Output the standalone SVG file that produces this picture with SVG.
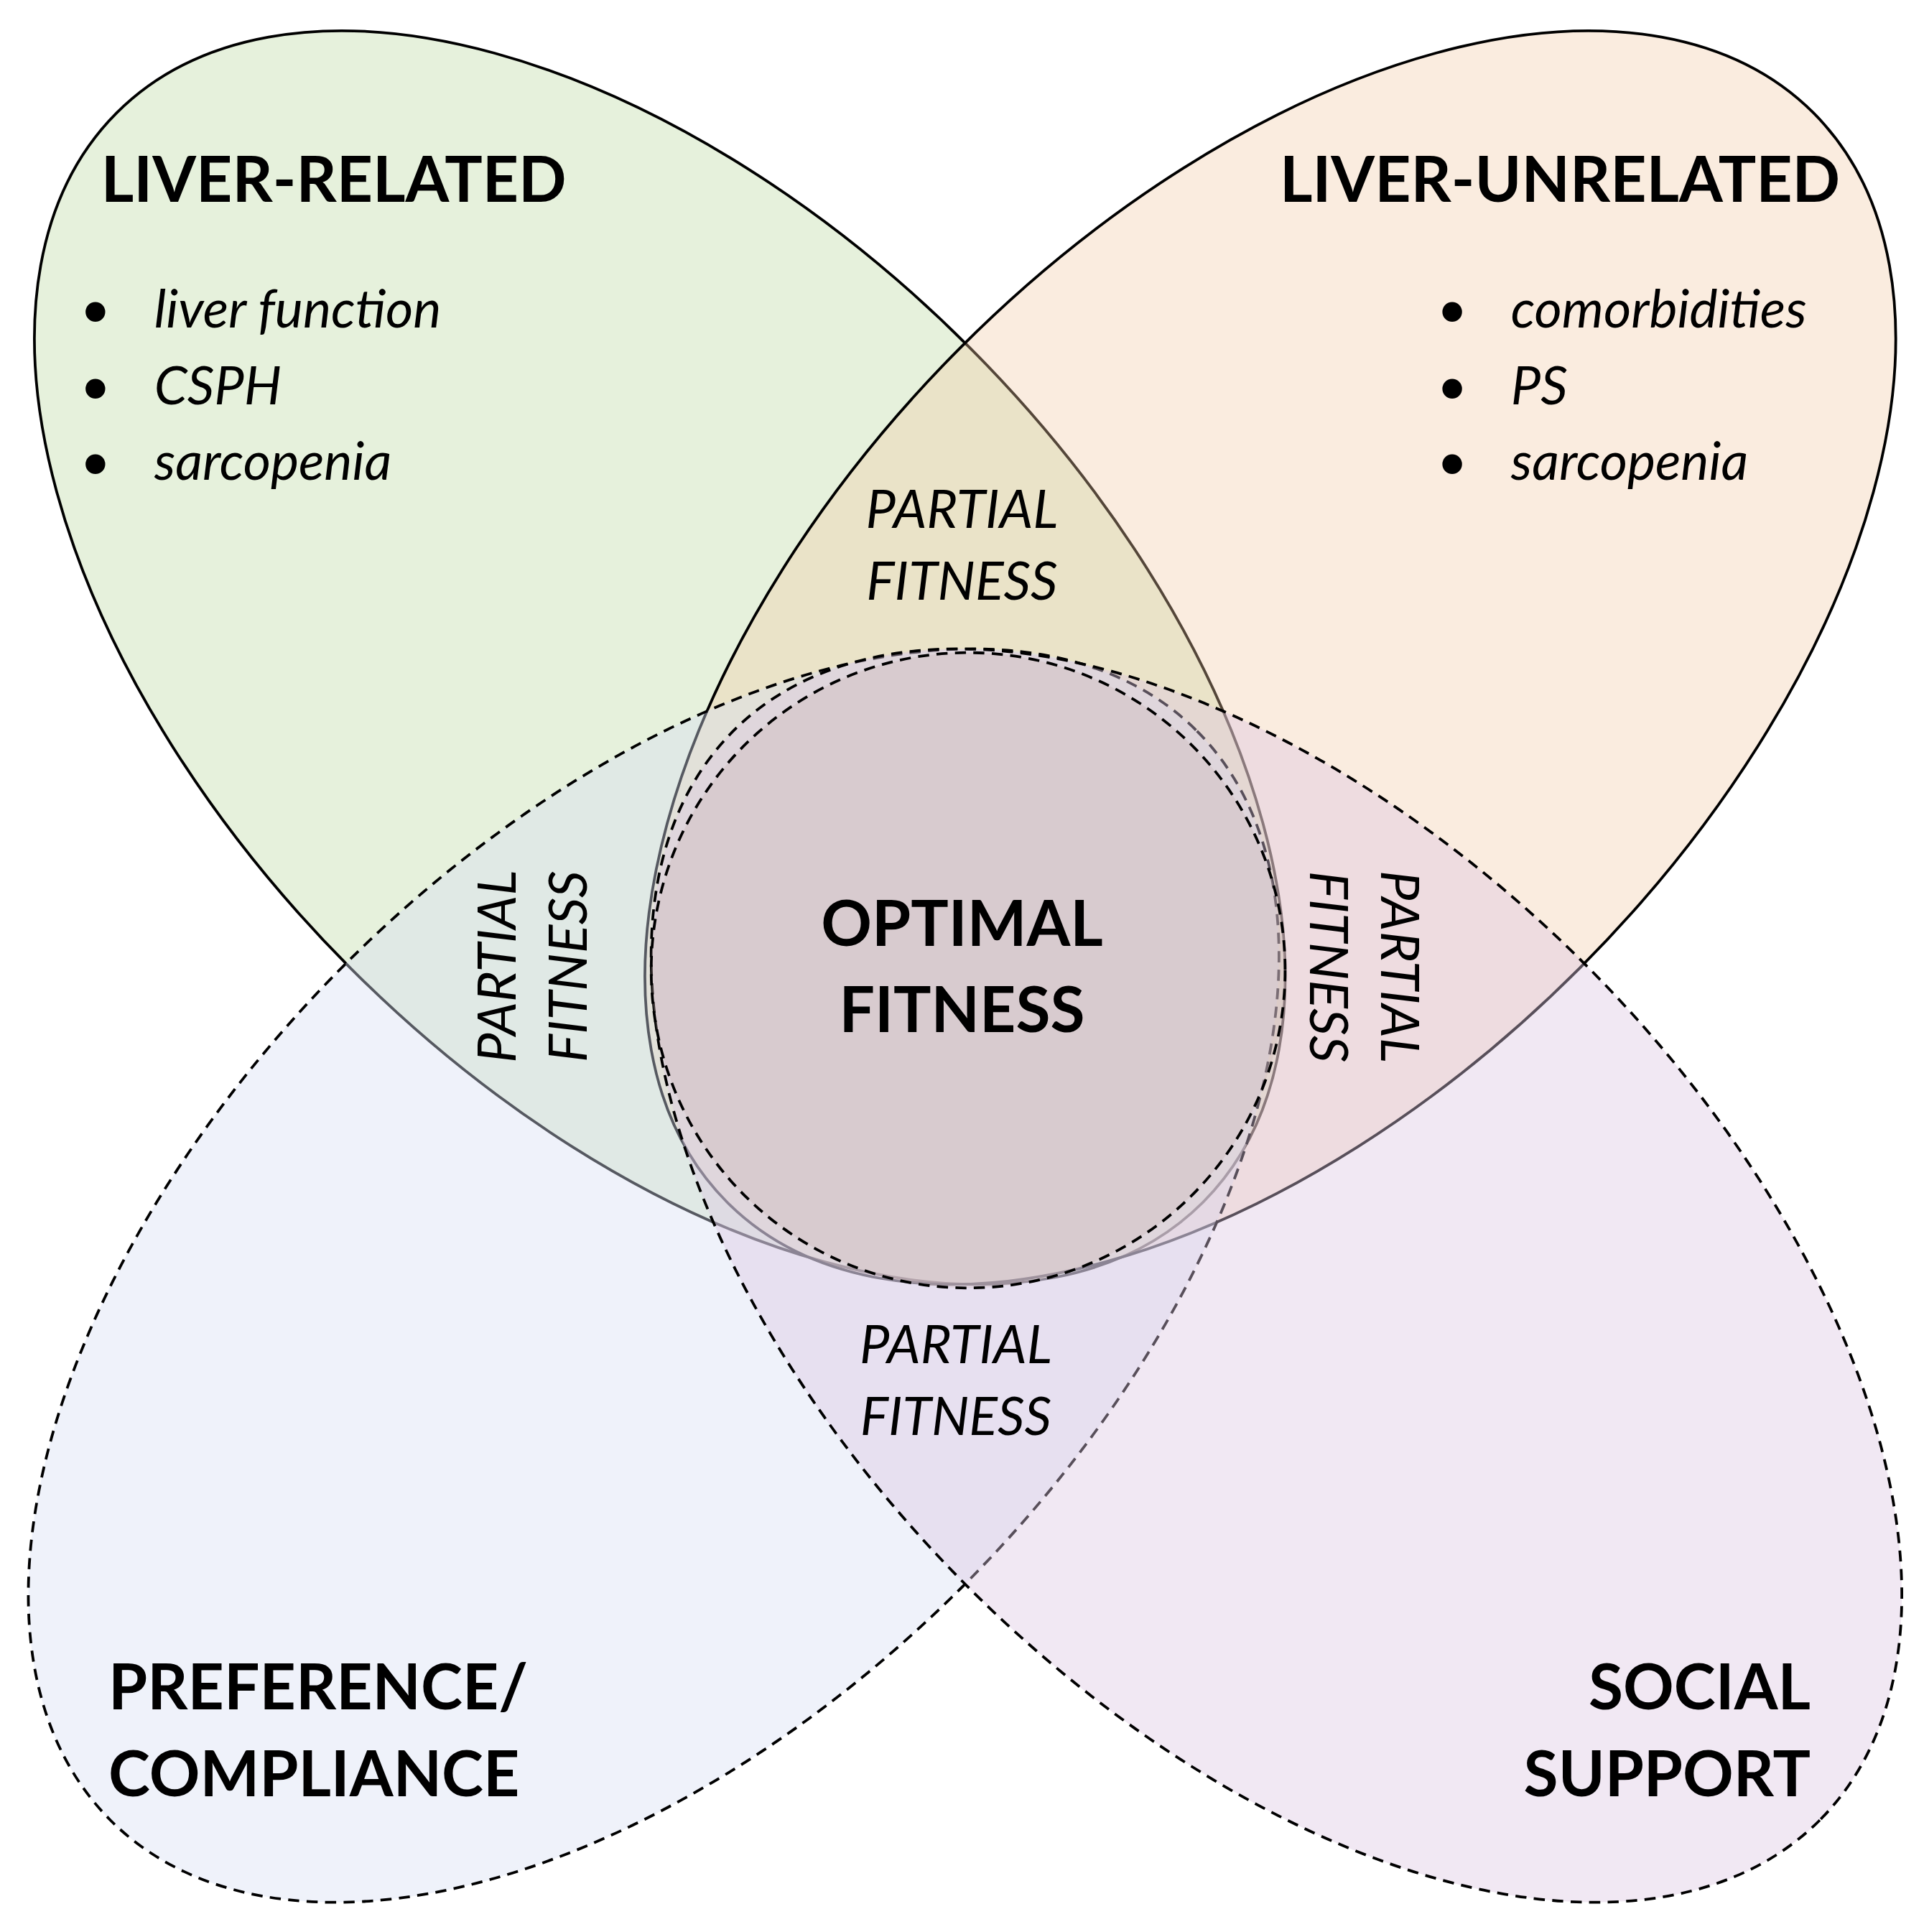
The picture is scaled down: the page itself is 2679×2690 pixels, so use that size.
<svg xmlns="http://www.w3.org/2000/svg" width="2679" height="2690" viewBox="0 0 2679 2690">
<style>
.e{stroke:#000;stroke-width:2.2}
.d{stroke-dasharray:9 6}
.h{font-family:Lato,"Liberation Sans",sans-serif;font-weight:bold;font-size:51px;fill:#000}
.i{font-family:Lato,"Liberation Sans",sans-serif;font-style:italic;font-size:43px;fill:#000}
</style>
<rect width="2679" height="2690" fill="#fff"/>
<g transform="scale(1.7173 1.721)">
<g id="liver-related"><ellipse class="e" cx="535" cy="532" rx="623" ry="355" transform="rotate(45 535 532)" fill="#b8d69c" fill-opacity="0.35"/></g>
<g id="liver-unrelated"><ellipse class="e" cx="1030" cy="532" rx="623" ry="355" transform="rotate(-45 1030 532)" fill="#f1c8a2" fill-opacity="0.35"/></g>
<g id="preference"><ellipse class="e d" cx="530" cy="1032" rx="623" ry="355" transform="rotate(-45 530 1032)" fill="#d6def2" fill-opacity="0.4"/></g>
<g id="social"><ellipse class="e d" cx="1035" cy="1032" rx="623" ry="355" transform="rotate(45 1035 1032)" fill="#dcc6e0" fill-opacity="0.4"/></g>
<g id="optimal"><circle class="e d" cx="785" cy="785" r="257" fill="#c9b3b3" fill-opacity="0.3"/></g>
<g id="connectors"></g>
<g id="labels">
<text class="h" x="82" y="163">LIVER-RELATED</text>
<text class="i" x="65" y="265">•</text><text class="i" x="125" y="265">liver function</text>
<text class="i" x="65" y="327">•</text><text class="i" x="125" y="327">CSPH</text>
<text class="i" x="65" y="388">•</text><text class="i" x="125" y="388">sarcopenia</text>
<text class="h" x="1492" y="163" text-anchor="end">LIVER-UNRELATED</text>
<text class="i" x="1165" y="265">•</text><text class="i" x="1225" y="265">comorbidities</text>
<text class="i" x="1165" y="327">•</text><text class="i" x="1225" y="327">PS</text>
<text class="i" x="1165" y="388">•</text><text class="i" x="1225" y="388">sarcopenia</text>
<text class="h" x="88" y="1383">PREFERENCE/</text>
<text class="h" x="88" y="1453">COMPLIANCE</text>
<text class="h" x="1468" y="1383" text-anchor="end">SOCIAL</text>
<text class="h" x="1468" y="1453" text-anchor="end">SUPPORT</text>
<text class="h" x="780" y="765" text-anchor="middle">OPTIMAL</text>
<text class="h" x="780" y="835" text-anchor="middle">FITNESS</text>
<text class="i" x="780" y="427" text-anchor="middle">PARTIAL</text>
<text class="i" x="780" y="485" text-anchor="middle">FITNESS</text>
<text class="i" x="775" y="1103" text-anchor="middle">PARTIAL</text>
<text class="i" x="775" y="1161" text-anchor="middle">FITNESS</text>
<g transform="translate(418 782) rotate(-90)"><text class="i" x="0" y="0" text-anchor="middle">PARTIAL</text><text class="i" x="0" y="58" text-anchor="middle">FITNESS</text></g>
<g transform="translate(1120 782) rotate(90)"><text class="i" x="0" y="0" text-anchor="middle">PARTIAL</text><text class="i" x="0" y="58" text-anchor="middle">FITNESS</text></g>
</g>
</g>
</svg>
